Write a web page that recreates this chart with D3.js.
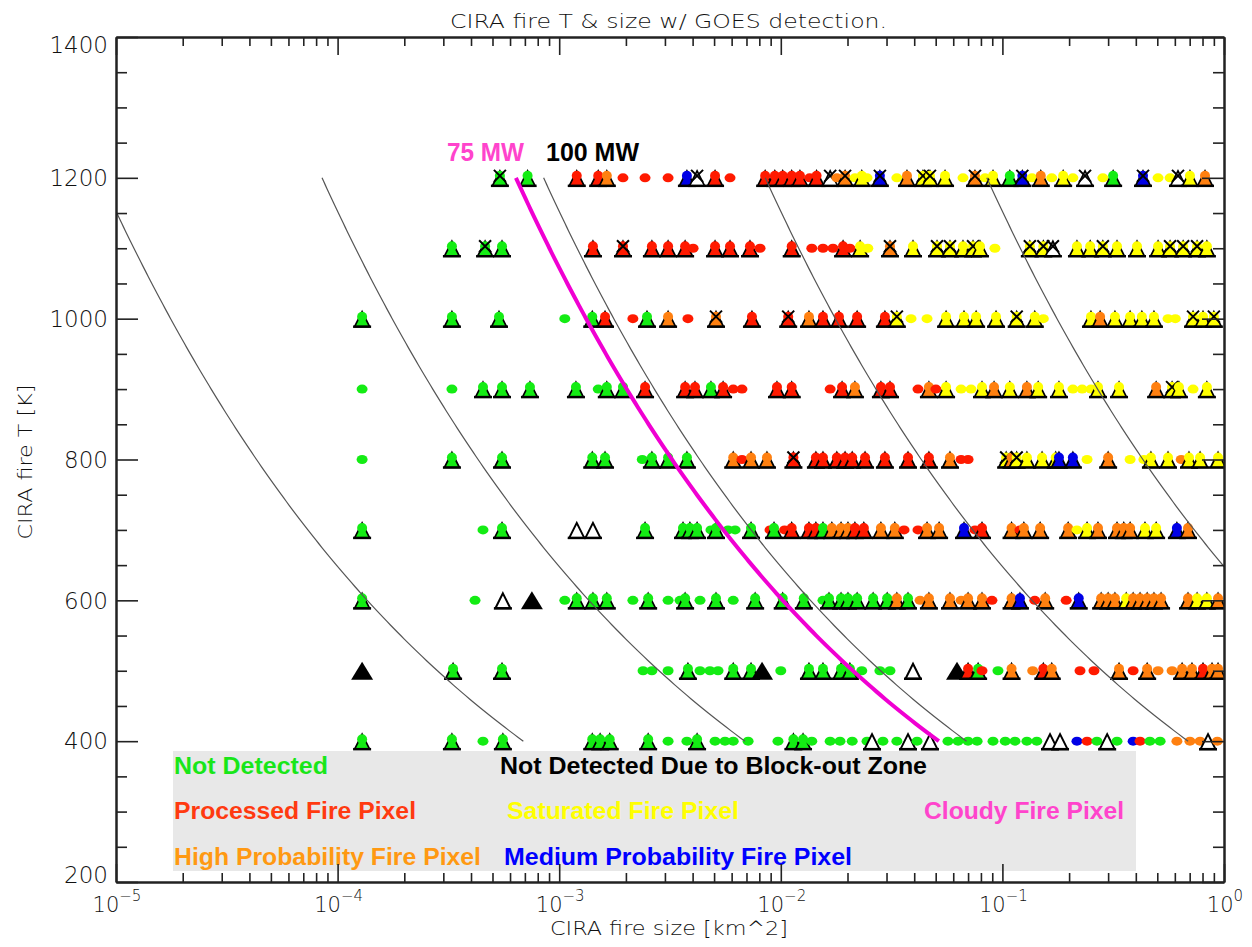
<html>
  <head>
    <meta charset="UTF-8">
    <title>CIRA fire T &amp; size w/ GOES detection</title>
    <style>
      body { margin: 0; background: #fff; }
      .frame path.domain { stroke: #222; stroke-width: 2px; }
      .frame .tick line { stroke: #222; stroke-width: 1.6px; }
      .curve { fill: none; stroke: #555; stroke-width: 1.2px; }
      .thin { font-family: "DejaVu Sans", sans-serif; font-weight: 300; fill: #111; }
      .legend { font-family: "Liberation Sans", Arial, sans-serif; font-weight: bold; }
    </style>
    <script src="https://cdn.jsdelivr.net/npm/d3@7"></script>
  </head>
  <body>
    <script>
      /* ==== Data ==== */
      // Fire size [km^2] per simulated fire, and a code: colour + marker.
      // colour: g not detected, r processed, y saturated, o high prob,
      //         b medium prob, k block-out zone
      // marker: d dot, t dot + triangle, x triangle + cross,
      //         o open triangle, k filled black triangle
      var fireTemps = [1200, 1100, 1000, 900, 800, 700, 600, 500, 400];

      var fires1200 = [[5.4e-4,"gx"],[7.2e-4,"gt"],[1.2e-3,"rt"],[1.5e-3,"rt"],[1.64e-3,"ot"],[1.94e-3,"rd"],
        [2.44e-3,"rd"],[3.1e-3,"rd"],[3.77e-3,"bt"],[4.19e-3,"kx"],[5.05e-3,"rt"],[5.9e-3,"rd"],[8.5e-3,"rt"],
        [9.4e-3,"rt"],[1.02e-2,"rt"],[1.12e-2,"rt"],[1.22e-2,"rt"],[1.35e-2,"rd"],[1.45e-2,"rt"],[1.67e-2,"kx"],
        [1.79e-2,"od"],[1.95e-2,"ox"],[2.16e-2,"yd"],[2.32e-2,"yt"],[2.45e-2,"yd"],[2.8e-2,"bx"],[3.34e-2,"yd"],
        [3.71e-2,"ot"],[4.38e-2,"yx"],[4.71e-2,"yx"],[5.51e-2,"yt"],[6.64e-2,"yd"],[7.52e-2,"ox"],[8.35e-2,"yd"],
        [9.07e-2,"yt"],[0.108,"gt"],[0.123,"bx"],[0.136,"yd"],[0.149,"ot"],[0.167,"yd"],[0.188,"yt"],[0.208,"yd"],
        [0.236,"kx"],[0.284,"yd"],[0.316,"gt"],[0.431,"bx"],[0.504,"yd"],[0.571,"yd"],[0.62,"kx"],[0.702,"yt"],
        [0.821,"ot"]];

      var fires1100 = [[3.28e-4,"gt"],[4.63e-4,"gx"],[5.52e-4,"gt"],[1.42e-3,"rt"],[1.94e-3,"rx"],[2.62e-3,"rt"],
        [3.1e-3,"rt"],[3.7e-3,"rt"],[4.02e-3,"rd"],[5.05e-3,"rt"],[5.9e-3,"rt"],[7.26e-3,"rt"],[8.06e-3,"rd"],
        [1.12e-2,"rt"],[1.38e-2,"rd"],[1.55e-2,"rd"],[1.72e-2,"rd"],[1.91e-2,"rt"],[2.05e-2,"rd"],[2.28e-2,"yt"],
        [2.47e-2,"yd"],[3.11e-2,"ox"],[3.95e-2,"yt"],[5.07e-2,"yx"],[5.8e-2,"yx"],[6.64e-2,"yt"],[7.37e-2,"yx"],
        [7.92e-2,"yt"],[9.25e-2,"yd"],[0.133,"yx"],[0.153,"yx"],[0.169,"kx"],[0.217,"yt"],[0.249,"yt"],
        [0.284,"yx"],[0.329,"yt"],[0.405,"yt"],[0.504,"yt"],[0.571,"yx"],[0.654,"yx"],[0.756,"yx"],[0.837,"yt"]];

      var fires1000 = [[1.29e-4,"gt"],[3.28e-4,"gt"],[5.35e-4,"gt"],[1.06e-3,"gd"],[1.41e-3,"gt"],[1.61e-3,"rt"],
        [2.15e-3,"rd"],[2.49e-3,"gt"],[3.1e-3,"ot"],[3.81e-3,"rd"],[5.1e-3,"ox"],[7.41e-3,"rt"],[1.08e-2,"rx"],
        [1.34e-2,"ot"],[1.55e-2,"rt"],[1.83e-2,"rt"],[2.21e-2,"rt"],[2.95e-2,"rt"],[3.34e-2,"yx"],[3.87e-2,"yd"],
        [4.57e-2,"yd"],[5.57e-2,"yt"],[6.71e-2,"yt"],[7.61e-2,"yt"],[9.36e-2,"yt"],[0.116,"yx"],[0.14,"yt"],
        [0.153,"yd"],[0.251,"yt"],[0.276,"ot"],[0.322,"yt"],[0.377,"yt"],[0.426,"yt"],[0.483,"yt"],[0.559,"yd"],
        [0.603,"yd"],[0.725,"yx"],[0.804,"yt"],[0.9,"yx"]];

      var fires900 = [[1.29e-4,"gd"],[3.28e-4,"gd"],[4.53e-4,"gt"],[5.52e-4,"gt"],[7.38e-4,"gt"],[1.19e-3,"gt"],
        [1.5e-3,"gd"],[1.64e-3,"gt"],[1.94e-3,"gt"],[2.44e-3,"rt"],[3.7e-3,"rt"],[4.1e-3,"rt"],[4.84e-3,"gt"],
        [5.49e-3,"rt"],[6.1e-3,"rd"],[6.68e-3,"rd"],[9.61e-3,"rt"],[1.12e-2,"rt"],[1.67e-2,"rd"],[1.89e-2,"rt"],
        [2.16e-2,"ot"],[2.83e-2,"rt"],[3.11e-2,"rt"],[4.16e-2,"rd"],[4.66e-2,"ot"],[5.01e-2,"rd"],[5.57e-2,"yt"],
        [6.51e-2,"yd"],[7.22e-2,"yd"],[8.09e-2,"yt"],[9.17e-2,"ot"],[0.108,"yt"],[0.129,"ot"],[0.145,"yt"],
        [0.18,"yt"],[0.208,"yd"],[0.229,"yd"],[0.251,"yd"],[0.27,"yt"],[0.336,"yt"],[0.494,"ot"],[0.583,"yx"],
        [0.626,"yt"],[0.725,"yd"],[0.837,"yt"]];

      var fires800 = [[1.29e-4,"gd"],[3.28e-4,"gt"],[5.52e-4,"gt"],[1.41e-3,"gt"],[1.61e-3,"gt"],[2.37e-3,"gd"],
        [2.62e-3,"gt"],[3.1e-3,"gt"],[3.77e-3,"gt"],[6.1e-3,"ot"],[6.68e-3,"rd"],[7.34e-3,"ot"],[8.66e-3,"ot"],
        [1.14e-2,"rx"],[1.44e-2,"rt"],[1.55e-2,"rt"],[1.79e-2,"rt"],[1.95e-2,"rt"],[2.1e-2,"rt"],[2.4e-2,"rt"],
        [2.95e-2,"rt"],[3.75e-2,"rt"],[4.66e-2,"rt"],[5.8e-2,"ot"],[6.51e-2,"rd"],[7.0e-2,"rd"],[0.104,"yx"],
        [0.11,"ot"],[0.116,"yx"],[0.129,"yt"],[0.151,"yt"],[0.174,"yt"],[0.18,"bt"],[0.208,"bt"],[0.241,"yd"],
        [0.3,"ot"],[0.377,"yd"],[0.435,"yd"],[0.468,"yt"],[0.559,"yt"],[0.641,"od"],[0.695,"yt"],[0.78,"yt"],
        [0.94,"yt"]];

      var fires700 = [[1.29e-4,"gt"],[4.53e-4,"gd"],[5.52e-4,"gt"],[1.2e-3,"ko"],[1.42e-3,"ko"],[2.44e-3,"gt"],
        [3.62e-3,"gt"],[3.89e-3,"gt"],[4.19e-3,"gt"],[4.84e-3,"gd"],[5.1e-3,"gt"],[5.78e-3,"gd"],[6.22e-3,"gd"],
        [7.34e-3,"gt"],[8.94e-3,"rd"],[9.32e-3,"gt"],[1.04e-2,"rd"],[1.12e-2,"rt"],[1.34e-2,"rt"],[1.44e-2,"rt"],
        [1.55e-2,"gt"],[1.7e-2,"ot"],[1.87e-2,"ot"],[2.01e-2,"ot"],[2.16e-2,"rt"],[2.37e-2,"rt"],[2.83e-2,"ot"],
        [3.27e-2,"ot"],[3.6e-2,"rd"],[4.16e-2,"rd"],[4.57e-2,"ot"],[5.18e-2,"ot"],[6.71e-2,"bt"],[7.52e-2,"rd"],
        [8.09e-2,"rt"],[0.11,"ot"],[0.12,"rd"],[0.125,"ot"],[0.148,"ot"],[0.198,"ot"],[0.217,"yd"],[0.241,"yt"],
        [0.27,"ot"],[0.329,"ot"],[0.353,"ot"],[0.377,"ot"],[0.44,"yt"],[0.494,"yt"],[0.613,"bt"],[0.688,"ot"]];

      var fires600 = [[1.29e-4,"gt"],[4.17e-4,"gd"],[5.57e-4,"ko"],[7.53e-4,"kk"],[1.06e-3,"gd"],[1.2e-3,"gt"],
        [1.42e-3,"gt"],[1.64e-3,"gt"],[2.15e-3,"gd"],[2.52e-3,"gt"],[3.1e-3,"gd"],[3.51e-3,"gd"],[3.7e-3,"gt"],
        [4.32e-3,"gd"],[5.1e-3,"gt"],[6.1e-3,"gd"],[7.66e-3,"gt"],[1.02e-2,"gt"],[1.27e-2,"gt"],[1.55e-2,"gd"],
        [1.65e-2,"gt"],[1.87e-2,"gt"],[2.01e-2,"gt"],[2.21e-2,"gt"],[2.61e-2,"gt"],[3.02e-2,"gt"],[3.34e-2,"ot"],
        [3.75e-2,"gt"],[4.25e-2,"od"],[4.66e-2,"ot"],[5.8e-2,"ot"],[6.51e-2,"od"],[7.0e-2,"ot"],[8.09e-2,"ot"],
        [8.97e-2,"rd"],[0.11,"ot"],[0.12,"bt"],[0.14,"rd"],[0.156,"ot"],[0.194,"rd"],[0.221,"bt"],[0.279,"ot"],
        [0.3,"ot"],[0.322,"ot"],[0.362,"yt"],[0.389,"ot"],[0.418,"ot"],[0.45,"ot"],[0.483,"ot"],[0.52,"ot"],
        [0.688,"ot"],[0.756,"yt"],[0.837,"yt"],[0.94,"ot"]];

      var fires500 = [[1.29e-4,"kk"],[3.32e-4,"gt"],[5.52e-4,"gt"],[2.39e-3,"gd"],[2.62e-3,"gd"],[3.1e-3,"gd"],
        [3.81e-3,"gt"],[4.32e-3,"gd"],[4.79e-3,"gd"],[5.21e-3,"gd"],[6.1e-3,"gt"],[7.34e-3,"gt"],[8.23e-3,"kk"],
        [1.0e-2,"gd"],[1.34e-2,"gt"],[1.55e-2,"gt"],[1.87e-2,"gt"],[2.05e-2,"gt"],[2.32e-2,"gd"],[2.8e-2,"gd"],
        [3.11e-2,"gd"],[3.95e-2,"ko"],[6.24e-2,"kk"],[7.0e-2,"rt"],[7.77e-2,"gt"],[8.09e-2,"rd"],[9.55e-2,"gd"],
        [0.11,"ot"],[0.137,"od"],[0.153,"rt"],[0.167,"ot"],[0.224,"rd"],[0.259,"rd"],[0.336,"ot"],[0.389,"rd"],
        [0.45,"ot"],[0.504,"od"],[0.583,"od"],[0.647,"ot"],[0.717,"ot"],[0.804,"rt"],[0.883,"ot"],[0.94,"ot"]];

      var fires400 = [[1.29e-4,"gt"],[3.28e-4,"gt"],[4.53e-4,"gd"],[5.57e-4,"gt"],[1.41e-3,"gt"],[1.53e-3,"gt"],
        [1.69e-3,"gt"],[2.52e-3,"gt"],[3.1e-3,"gd"],[3.77e-3,"gd"],[4.19e-3,"gt"],[5.05e-3,"gd"],[5.6e-3,"gd"],
        [6.1e-3,"gd"],[7.12e-3,"gd"],[9.71e-3,"gd"],[1.14e-2,"gt"],[1.26e-2,"gt"],[1.38e-2,"gd"],[1.67e-2,"gd"],
        [1.85e-2,"gd"],[2.1e-2,"gd"],[2.45e-2,"gd"],[2.58e-2,"ko"],[2.89e-2,"gd"],[3.34e-2,"gd"],[3.75e-2,"ko"],
        [4.12e-2,"gd"],[4.71e-2,"ko"],[5.68e-2,"gd"],[6.31e-2,"gd"],[7.0e-2,"gd"],[7.69e-2,"gd"],[9.07e-2,"gd"],
        [0.103,"gd"],[0.114,"gd"],[0.129,"gd"],[0.143,"gd"],[0.164,"ko"],[0.182,"ko"],[0.217,"bd"],[0.241,"rd"],
        [0.267,"gd"],[0.297,"ko"],[0.329,"gd"],[0.389,"bd"],[0.418,"rd"],[0.463,"gd"],[0.515,"gd"],[0.613,"od"],
        [0.702,"od"],[0.78,"od"],[0.847,"ko"],[0.933,"od"]];

      var fireRows = [fires1200, fires1100, fires1000, fires900, fires800,
                      fires700, fires600, fires500, fires400];

      // Constant fire radiative power curves [MW]
      var powerLines = [1, 10, 75, 100, 1000, 10000];
      var powerLabels = ["75 MW", "100 MW"];

      // Tick labels
      var xDecades = [-5, -4, -3, -2, -1, 0];
      var yLabels = [200, 400, 600, 800, 1000, 1200, 1400];

      var legendLabels = ["Not Detected", "Not Detected Due to Block-out Zone",
                          "Processed Fire Pixel", "Saturated Fire Pixel", "Cloudy Fire Pixel",
                          "High Probability Fire Pixel", "Medium Probability Fire Pixel"];
      var legendColors = ["#19e619", "#000000", "#ff3a10", "#ffff00", "#ff44cc", "#ff9912", "#0000ff"];

      /* ==== Styling ==== */
      var colors = {g: "#14ec14", r: "#ff1a00", y: "#ffff00", o: "#ff8010", b: "#0000e6", k: "#000000"};
      var SIGMA = 5.67e-8;

      var width = 1252, height = 947;
      var plot = {left: 116, right: 1224, top: 37, bottom: 882};

      var svg = d3.select("body").append("svg")
          .attr("width", width)
          .attr("height", height);

      var x = d3.scaleLog().domain([1e-5, 1]).range([plot.left, plot.right]);
      var y = d3.scaleLinear().domain([200, 1400]).range([plot.bottom, plot.top]);

      svg.append("clipPath").attr("id", "clip")
        .append("rect")
          .attr("x", plot.left).attr("y", plot.top)
          .attr("width", plot.right - plot.left)
          .attr("height", plot.bottom - plot.top);

      /* ==== Legend box (behind everything) ==== */
      svg.append("rect")
          .attr("x", 173).attr("y", 751)
          .attr("width", 963).attr("height", 120)
          .attr("fill", "#e8e8e8");

      // slot: x, baseline, width in pixels
      var legendSlots = [[174, 774, 154], [500, 774, 427], [174, 819, 242], [507, 819, 232],
                         [924, 819, 200], [174, 865, 307], [504, 865, 348]];
      legendLabels.forEach(function(label, i) {
          var s = legendSlots[i];
          svg.append("text")
              .attr("class", "legend")
              .attr("x", s[0]).attr("y", s[1])
              .attr("font-size", 24)
              .attr("textLength", s[2])
              .attr("lengthAdjust", "spacingAndGlyphs")
              .attr("fill", legendColors[i])
              .text(label);
      });

      /* ==== Fire markers ==== */
      var tri = "M0,-7L7.5,8L-7.5,8Z";
      var bigTri = "M0,-9L11,9L-11,9Z";
      var markers = svg.append("g").attr("clip-path", "url(#clip)");

      fireRows.forEach(function(row, i) {
          var ty = y(fireTemps[i]);
          row.forEach(function(f) {
              var c = colors[f[1][0]], m = f[1][1];
              var g = markers.append("g")
                  .attr("transform", "translate(" + x(f[0]) + "," + ty + ")");
              if (m === "d") {
                  g.append("ellipse").attr("rx", 5.5).attr("ry", 4.5).attr("fill", c);
              } else if (m === "k") {
                  g.append("path").attr("d", bigTri).attr("fill", "#000");
              } else if (m === "o") {
                  g.append("path").attr("d", tri)
                      .attr("fill", "#fff").attr("stroke", "#000").attr("stroke-width", 2);
                  g.append("line").attr("x1", -9).attr("x2", 9).attr("y1", 8).attr("y2", 8)
                      .attr("stroke", "#000").attr("stroke-width", 2.5);
              } else {
                  g.append("path").attr("d", tri)
                      .attr("fill", c === "#000000" ? "#fff" : c)
                      .attr("stroke", "#000").attr("stroke-width", 1.7);
                  g.append("line").attr("x1", -9).attr("x2", 9).attr("y1", 8).attr("y2", 8)
                      .attr("stroke", "#000").attr("stroke-width", 2.5);
                  if (c !== "#000000") {
                      g.append("circle").attr("cy", -2).attr("r", 5).attr("fill", c);
                  }
                  if (m === "x") {
                      g.append("path").attr("d", "M-6,-8L6,4M6,-8L-6,4")
                          .attr("stroke", "#000").attr("stroke-width", 2);
                  }
              }
          });
      });

      /* ==== Constant FRP curves ==== */
      var temps = d3.range(400, 1200.1, 5);
      var curve = d3.line()
          .x(function(d) { return x(d.a); })
          .y(function(d) { return y(d.t); });

      var curves = svg.append("g").attr("clip-path", "url(#clip)");
      powerLines.forEach(function(p) {
          var pts = temps.map(function(t) {
              return {t: t, a: p / (SIGMA * Math.pow(t, 4))};  // km^2
          });
          curves.append("path")
              .attr("class", p === 75 ? null : "curve")
              .attr("fill", "none")
              .attr("stroke", p === 75 ? "#f000d2" : null)
              .attr("stroke-width", p === 75 ? 4 : null)
              .attr("d", curve(pts));
      });

      svg.append("text")
          .attr("class", "legend")
          .attr("x", 447).attr("y", 161)
          .attr("font-size", 25).attr("textLength", 77)
          .attr("lengthAdjust", "spacingAndGlyphs")
          .attr("fill", "#ff44cc")
          .text(powerLabels[0]);
      svg.append("text")
          .attr("class", "legend")
          .attr("x", 546).attr("y", 161)
          .attr("font-size", 25).attr("textLength", 93)
          .attr("lengthAdjust", "spacingAndGlyphs")
          .attr("fill", "#000")
          .text(powerLabels[1]);

      /* ==== Axes ==== */
      var xMajor = xDecades.map(function(e) { return Math.pow(10, e); });
      var xMinor = [];
      xDecades.slice(0, -1).forEach(function(e) {
          for (var k = 2; k <= 9; ++k) xMinor.push(k * Math.pow(10, e));
      });
      var yMinor = d3.range(200, 1401, 50).filter(function(v) { return v % 200 !== 0; });

      function addAxis(axis, tx, ty) {
          svg.append("g")
              .attr("class", "frame")
              .attr("transform", "translate(" + tx + "," + ty + ")")
              .call(axis.tickSizeOuter(0).tickFormat(""));
      }
      addAxis(d3.axisBottom(x).tickValues(xMajor).tickSize(-18), 0, plot.bottom);
      addAxis(d3.axisBottom(x).tickValues(xMinor).tickSize(-9), 0, plot.bottom);
      addAxis(d3.axisTop(x).tickValues(xMajor).tickSize(-18), 0, plot.top);
      addAxis(d3.axisTop(x).tickValues(xMinor).tickSize(-9), 0, plot.top);
      addAxis(d3.axisLeft(y).tickValues(yLabels).tickSize(-22), plot.left, 0);
      addAxis(d3.axisLeft(y).tickValues(yMinor).tickSize(-11), plot.left, 0);
      addAxis(d3.axisRight(y).tickValues(yLabels).tickSize(-22), plot.right, 0);
      addAxis(d3.axisRight(y).tickValues(yMinor).tickSize(-11), plot.right, 0);

      // Y tick labels (end labels nudged inside like IDL does)
      svg.selectAll(".ylab").data(yLabels).enter().append("text")
          .attr("class", "thin ylab")
          .attr("x", 108)
          .attr("y", function(d) { return Math.min(Math.max(y(d), 45), 875); })
          .attr("dy", "0.36em")
          .attr("text-anchor", "end")
          .attr("font-size", 23)
          .text(function(d) { return d; });

      // X tick labels: 10^n
      var xl = svg.selectAll(".xlab").data(xDecades).enter().append("text")
          .attr("class", "thin xlab")
          .attr("x", function(d) { return x(Math.pow(10, d)) + 1; })
          .attr("y", 912)
          .attr("text-anchor", "middle")
          .attr("font-size", 21);
      xl.append("tspan").text("10");
      xl.append("tspan")
          .attr("dy", -11)
          .attr("font-size", 15)
          .text(function(d) { return d < 0 ? "\u2212" + (-d) : d; });

      /* ==== Titles ==== */
      svg.append("text")
          .attr("class", "thin")
          .attr("x", 450).attr("y", 28)
          .attr("font-size", 19)
          .attr("textLength", 437)
          .attr("lengthAdjust", "spacingAndGlyphs")
          .text("CIRA fire T & size w/ GOES detection.");

      svg.append("text")
          .attr("class", "thin")
          .attr("x", 550).attr("y", 935)
          .attr("font-size", 19)
          .attr("textLength", 238)
          .attr("lengthAdjust", "spacingAndGlyphs")
          .text("CIRA fire size [km^2]");

      svg.append("text")
          .attr("class", "thin")
          .attr("transform", "translate(32,462) rotate(-90)")
          .attr("text-anchor", "middle")
          .attr("font-size", 19)
          .attr("textLength", 155)
          .attr("lengthAdjust", "spacingAndGlyphs")
          .text("CIRA fire T [K]");
    </script>
  </body>
</html>
